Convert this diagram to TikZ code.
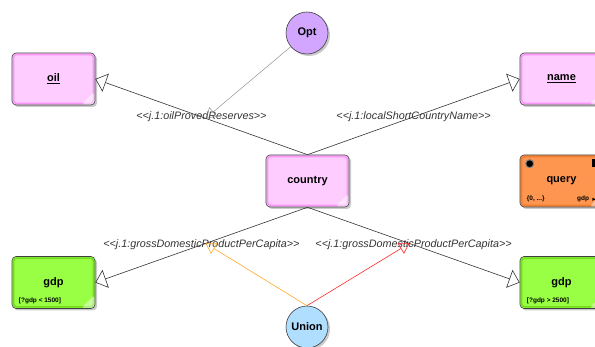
\documentclass[tikz,border=0pt]{standalone}
\usepackage{fontspec}
\setmainfont{Liberation Sans}
\usepackage{tikz}
\usetikzlibrary{arrows.meta, shadows, shapes.geometric}
\definecolor{clsPink}{RGB}{255,204,255}
\definecolor{clsPinkRim}{RGB}{250,150,250}
\definecolor{clsGreen}{RGB}{153,255,68}
\definecolor{clsGreenRim}{RGB}{115,220,30}
\definecolor{clsOrange}{RGB}{255,150,80}
\definecolor{clsOrangeRim}{RGB}{240,125,50}
\definecolor{optPurple}{RGB}{210,165,255}
\definecolor{unionBlue}{RGB}{176,222,255}
\definecolor{unionOrange}{RGB}{255,170,40}
\definecolor{unionRed}{RGB}{255,40,40}
\newcommand{\stereo}[1]{<{}<#1>{}>}
\tikzset{
    cls/.style={rectangle, rounded corners=4pt, draw=black!75, line width=0.6pt, minimum width=83pt, minimum height=52pt, align=center, font=\fontsize{11}{13}\selectfont\bfseries, drop shadow={shadow xshift=2pt, shadow yshift=-2pt, fill=black!60, opacity=0.35}},
    boxrim/.style={path picture={
        \draw[#1, line width=1.6pt, rounded corners=3pt] ([shift={(1.6pt,1.6pt)}]path picture bounding box.south west) rectangle ([shift={(-1.6pt,-1.6pt)}]path picture bounding box.north east);
        \fill[white, opacity=0.45] (path picture bounding box.south east) -- ++(-14pt,0) -- ++(14pt,14pt) -- cycle;}},
    pinkcls/.style={cls, fill=clsPink, boxrim=clsPinkRim},
    greencls/.style={cls, fill=clsGreen, boxrim=clsGreenRim},
    orangecls/.style={cls, fill=clsOrange, boxrim=clsOrangeRim},
    op/.style={circle, draw=black!75, line width=0.6pt, minimum size=42pt, inner sep=0pt, font=\fontsize{11}{13}\selectfont\bfseries, drop shadow={shadow xshift=2pt, shadow yshift=-2pt, fill=black!60, opacity=0.35}},
    gen/.style={-{Triangle[open, length=11pt, width=19pt]}, draw=black!80, line width=0.6pt},
    hint/.style={-{Triangle[open, length=10pt, width=12pt]}, line width=0.6pt},
    edgelbl/.style={font=\fontsize{10.8}{12}\selectfont\itshape, text=black!80, inner sep=1pt},
    tiny/.style={font=\fontsize{6.5}{7.5}\selectfont\bfseries, inner sep=0pt}
}
\begin{document}
\begin{tikzpicture}[x=1pt, y=1pt]
    \useasboundingbox (0,-347) rectangle (595,0);
    \clip (0,-347) rectangle (595,0);

    % Classes
    \node[pinkcls] (country) at (307.5,-181) {country};
    \node[pinkcls] (oil) at (53.5,-79) {\underline{oil}};
    \node[pinkcls] (name) at (561.5,-79) {\underline{name}};
    \node[greencls] (gdpLow) at (53.5,-282.5) {gdp};
    \node[greencls] (gdpHigh) at (561.5,-282.5) {gdp};
    \node[orangecls] (query) at (561.5,-181) {query};

    % Filters
    \node[tiny, anchor=south west] (gdpLowCond) at ([shift={(7pt,5pt)}]gdpLow.south west) {[?gdp < 1500]};
    \node[tiny, anchor=south west] (gdpHighCond) at ([shift={(7pt,5pt)}]gdpHigh.south west) {[?gdp > 2500]};

    % Query marks
    \node[tiny, anchor=south west] (queryLimit) at ([shift={(7pt,5pt)}]query.south west) {\{0, ...\}};
    \node[tiny, anchor=south east] (querySort) at ([shift={(-14pt,5pt)}]query.south east) {gdp};
    \node[circle, fill=black, draw=black!50, line width=1pt, minimum size=8pt, inner sep=0pt] (queryDot) at ([shift={(10pt,-9pt)}]query.north west) {};
    \node[fill=black, minimum width=9pt, minimum height=8pt, inner sep=0pt] (queryFlag) at ([shift={(35pt,-8pt)}]query.north) {};
    \node[fill=black, isosceles triangle, minimum size=3pt, inner sep=0pt] (queryArrow) at ([shift={(-10pt,8pt)}]query.south east) {};

    % Operators
    \node[op, fill=optPurple] (opt) at (307,-33) {Opt};
    \node[op, fill=unionBlue] (union) at (307,-327) {Union};

    % Properties
    \draw[gen] (country.north) -- node[edgelbl] {\stereo{j.1:oilProvedReserves}} coordinate[pos=0.48] (oilMid) (oil.east);
    \draw[gen] (country.north) -- node[edgelbl] {\stereo{j.1:localShortCountryName}} (name.west);
    \draw[gen] (country.south) -- node[edgelbl] {\stereo{j.1:grossDomesticProductPerCapita}} coordinate[pos=0.48] (lowMid) (gdpLow.east);
    \draw[gen] (country.south) -- node[edgelbl] {\stereo{j.1:grossDomesticProductPerCapita}} coordinate[pos=0.48] (highMid) (gdpHigh.west);

    % Operator links
    \draw[hint, draw=gray, line width=0.4pt] (opt) -- (oilMid);
    \draw[hint, draw=unionOrange] (union.north) -- (lowMid);
    \draw[hint, draw=unionRed] (union.north) -- (highMid);
\end{tikzpicture}
\end{document}
